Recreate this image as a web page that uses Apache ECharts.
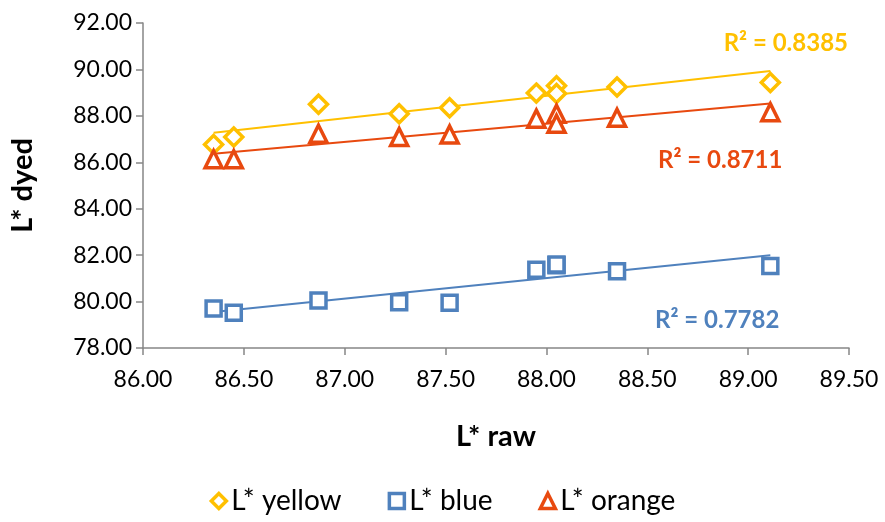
<!DOCTYPE html>
<html><head><meta charset="utf-8">
<script src="https://cdn.jsdelivr.net/npm/echarts@6/dist/echarts.min.js"></script>
<style>html,body{margin:0;padding:0;background:#fff}#c{width:885px;height:522px}</style>
</head><body><div id="c"></div>
<script>
var rawX = [86.35, 86.45, 86.87, 87.27, 87.52, 87.95, 88.05, 88.05, 88.35, 89.11];
var yellowY = [86.77, 87.09, 88.50, 88.09, 88.35, 88.98, 89.30, 88.96, 89.24, 89.44];
var blueY = [79.70, 79.52, 80.05, 79.97, 79.95, 81.37, 81.56, 81.60, 81.31, 81.53];
var orangeY = [86.13, 86.13, 87.23, 87.09, 87.20, 87.88, 88.09, 87.66, 87.92, 88.16];
var seriesNames = ['L* yellow', 'L* blue', 'L* orange'];
var r2Labels = ['R² = 0.8385', 'R² = 0.7782', 'R² = 0.8711'];
var colors = ['#FFC000', '#4F81BD', '#E8490F'];
var symbols = ['diamond', 'rect', 'triangle'];
var yTicks = {min: 78, max: 92, interval: 2};
var xTicks = {min: 86, max: 89.5, interval: 0.5};

var FONT = 'Lato';
function pairs(ys){ return rawX.map(function(x,i){return [x, ys[i]];}); }
function fit(ys){
  var n = rawX.length, sx=0, sy=0, sxx=0, sxy=0;
  for (var i=0;i<n;i++){ sx+=rawX[i]; sy+=ys[i]; sxx+=rawX[i]*rawX[i]; sxy+=rawX[i]*ys[i]; }
  var b = (n*sxy - sx*sy)/(n*sxx - sx*sx), a = (sy - b*sx)/n;
  var x0 = Math.min.apply(null, rawX), x1 = Math.max.apply(null, rawX);
  return [[x0, a+b*x0],[x1, a+b*x1]];
}
var allY = [yellowY, blueY, orangeY];
var series = [];
allY.forEach(function(ys, k){
  series.push({type:'line', data: fit(ys), showSymbol:false, silent:true,
    lineStyle:{color:colors[k], width:2}, z:1});
});
allY.forEach(function(ys, k){
  series.push({name: seriesNames[k], type:'scatter', data: pairs(ys), symbol: symbols[k],
    symbolSize: k===1 ? 15 : (k===0 ? 18 : 17),
    itemStyle:{color:'#fff', borderColor: colors[k], borderWidth: 3.5, opacity:1}, z:3});
});

var chart = echarts.init(document.getElementById('c'), null, {renderer:'canvas'});
chart.setOption({
  animation:false,
  textStyle:{fontFamily:FONT},
  grid:{left:138, right:36, top:23, bottom:174, containLabel:false},
  xAxis:{type:'value', min:xTicks.min, max:xTicks.max, interval:xTicks.interval,
    name:'L* raw', nameLocation:'middle', nameGap:74,
    nameTextStyle:{fontFamily:FONT, fontWeight:'bold', fontSize:29, color:'#000'},
    axisLine:{lineStyle:{color:'#868686', width:1.5}},
    axisTick:{show:true, length:7, lineStyle:{color:'#868686', width:1.5}},
    axisLabel:{formatter:function(v){return v.toFixed(2);}, fontSize:23, color:'#000', margin:20, fontFamily:FONT},
    splitLine:{show:false}},
  yAxis:{type:'value', min:yTicks.min, max:yTicks.max, interval:yTicks.interval,
    name:'L* dyed', nameLocation:'middle', nameGap:106, nameRotate:90,
    nameTextStyle:{fontFamily:FONT, fontWeight:'bold', fontSize:29, color:'#000'},
    axisLine:{show:true, lineStyle:{color:'#868686', width:1.5}},
    axisTick:{show:true, length:7, lineStyle:{color:'#868686', width:1.5}},
    axisLabel:{formatter:function(v){return v.toFixed(2);}, fontSize:23, color:'#000', margin:11, fontFamily:FONT},
    splitLine:{show:false}},
  legend:{data:seriesNames, bottom:2, left:'center', itemGap:46, itemWidth:15, itemHeight:15,
    itemStyle:{borderWidth:3.5},
    textStyle:{fontFamily:FONT, fontSize:28, color:'#000'}},
  graphic:[
    {type:'text', right:37, top:31, style:{text:r2Labels[0], fill:colors[0], font:'bold 24px '+FONT}},
    {type:'text', left:655, top:308, style:{text:r2Labels[1], fill:colors[1], font:'bold 24px '+FONT}},
    {type:'text', left:658, top:148, style:{text:r2Labels[2], fill:colors[2], font:'bold 24px '+FONT}}
  ],
  series: series
});
</script></body></html>
